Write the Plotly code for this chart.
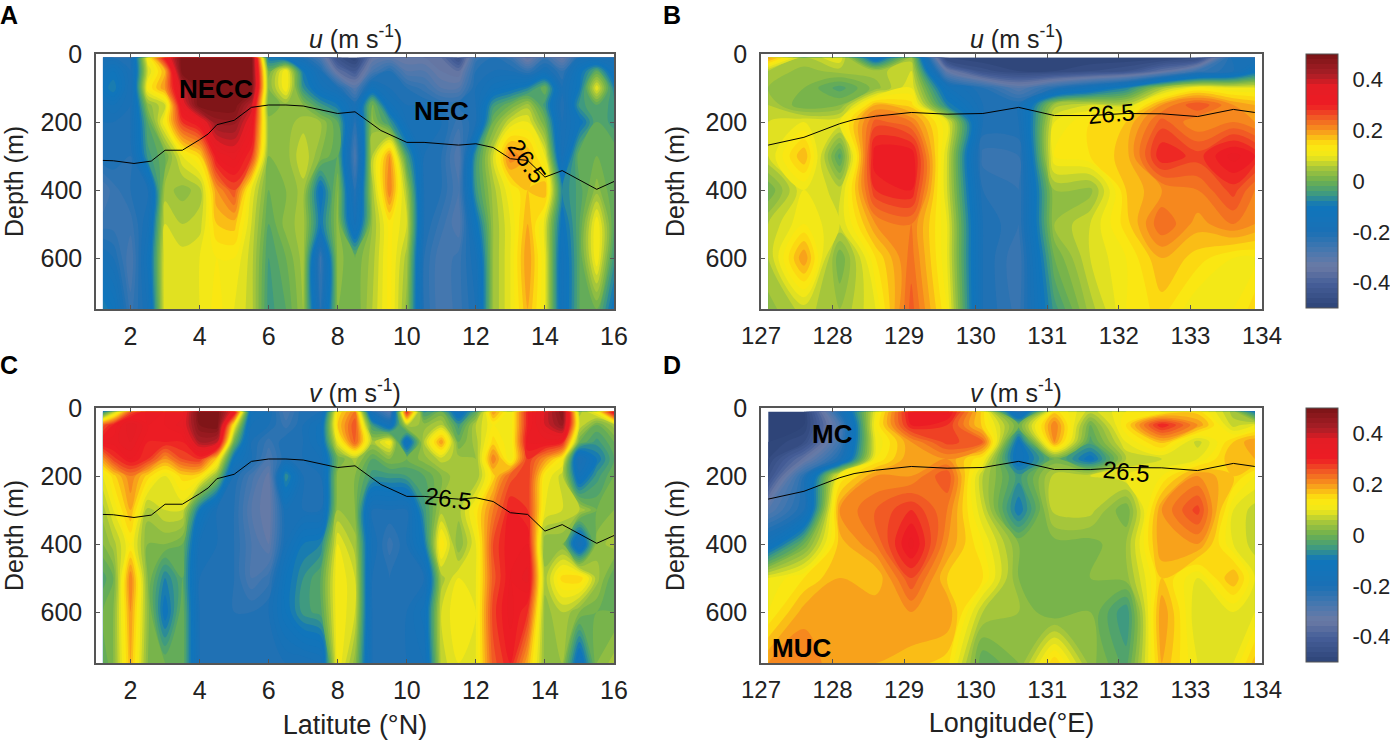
import numpy as np
import plotly.graph_objects as go

# depth levels shared by all four sections (m)
depth = [10, 50, 100, 150, 200, 300, 400, 500, 600, 750]
lat = [1.2, 1.5, 2, 2.5, 3, 3.5, 4, 4.5, 5, 5.5, 6, 6.5, 7, 7.5, 8, 8.5, 9, 9.5,
       10, 10.5, 11, 11.5, 12, 12.5, 13, 13.5, 14, 14.5, 15, 15.5, 16]
lon = [127.1, 127.6, 128.1, 128.6, 129.1, 129.6, 130.1, 130.6, 131.1, 131.6,
       132.1, 132.6, 133.1, 133.6, 133.9]

# sections are written column by column (one list per station), top to bottom
u_lat = [
    [-.2, -.15, -.12, -.18, -.2, -.2, -.28, -.25, -.18, -.08],
    [-.2, -.12, -.08, -.16, -.2, -.2, -.25, -.25, -.2, -.12],
    [-.2, -.2, -.2, -.2, -.2, -.22, -.22, -.25, -.28, -.25],
    [.12, .08, .12, .03, -.02, -.05, -.2, -.18, -.15, -.18],
    [.32, .18, .2, .08, .12, 0, .05, .08, .1, .1],
    [.5, .5, .4, .35, .28, .1, .03, .06, .09, .1],
    [.5, .5, .5, .5, .33, .15, .05, .07, .1, .1],
    [.5, .5, .5, .5, .45, .32, .2, .16, .12, .13],
    [.5, .5, .5, .5, .45, .35, .26, .17, .12, .1],
    [.5, .5, .5, .4, .35, .28, .1, .08, .07, .07],
    [-.1, 0, .02, 0, .03, .02, 0, -.02, -.04, -.05],
    [-.14, .12, .12, .03, .03, .03, .02, .03, 0, -.02],
    [-.2, -.1, -.06, .02, .05, .08, .05, .05, .05, .04],
    [-.28, -.2, -.15, -.05, .04, .02, -.12, -.1, -.25, -.22],
    [-.45, -.36, -.2, -.1, -.02, -.02, .02, .03, .03, .02],
    [-.5, -.42, -.3, -.2, -.22, -.28, -.22, -.18, 0, 0],
    [-.34, -.28, -.15, .02, .03, .06, .05, .04, .05, .06],
    [-.32, -.22, -.2, -.15, -.05, .2, .22, .13, .13, .13],
    [-.34, -.3, -.22, -.2, -.18, -.04, .05, .08, .05, .03],
    [-.34, -.3, -.25, -.2, -.18, -.2, -.2, -.2, -.22, -.22],
    [-.36, -.34, -.3, -.22, -.2, -.22, -.22, -.25, -.28, -.28],
    [-.45, -.36, -.3, -.22, -.25, -.3, -.28, -.3, -.25, -.25],
    [-.25, -.22, -.2, -.2, -.2, -.05, -.05, -.12, -.18, -.2],
    [-.22, -.2, -.15, -.05, 0, .08, .05, .04, .04, .04],
    [-.25, -.2, -.12, 0, .08, .22, .12, .1, .1, .1],
    [-.36, -.24, -.08, .05, .1, .18, .16, .18, .2, .18],
    [-.25, -.18, 0, -.05, 0, .1, .18, .09, .1, .1],
    [-.34, -.24, -.2, -.22, -.2, -.18, -.08, -.12, -.15, -.15],
    [-.2, -.12, -.1, -.05, -.12, 0, -.03, -.02, -.02, -.02],
    [-.2, -.02, .1, -.02, -.02, 0, .03, .12, .12, 0],
    [-.2, -.15, -.08, -.05, -.05, 0, -.02, -.02, -.05, -.12],
]

v_lat = [
    [-.08, .25, .33, .2, .1, .05, .02, -.03, 0, -.02],
    [.05, .3, .33, .27, .15, .1, .05, 0, .02, .02],
    [.25, .38, .36, .32, .22, .18, .12, .22, .2, .18],
    [.33, .32, .3, .28, .15, .05, .02, .02, .03, .02],
    [.32, .32, .3, .2, .1, .08, .02, -.08, -.12, 0],
    [.33, .35, .3, .26, .15, .08, 0, -.02, 0, 0],
    [.5, .48, .42, .28, .14, -.1, -.18, -.2, -.2, -.2],
    [.5, .5, .4, .15, .03, -.2, -.2, -.2, -.2, -.2],
    [.35, .12, 0, -.12, -.2, -.22, -.22, -.22, -.22, -.2],
    [-.15, -.18, -.2, -.2, -.27, -.3, -.28, -.28, -.22, -.2],
    [-.18, -.2, -.25, -.28, -.33, -.34, -.32, -.25, -.2, -.2],
    [-.28, -.25, -.2, -.2, -.06, -.18, -.18, -.12, -.12, -.2],
    [-.2, -.2, -.2, -.2, -.2, -.2, -.1, -.06, -.05, -.2],
    [-.2, -.15, -.15, -.18, -.2, -.2, -.08, -.02, -.03, -.18],
    [.14, .16, .1, 0, .03, .04, .1, .12, .12, .12],
    [.22, .26, .25, .05, .02, .02, .05, .08, .08, .03],
    [-.2, -.05, .05, -.02, -.05, -.2, -.18, -.2, -.2, -.2],
    [-.3, -.15, .12, .02, -.05, -.2, -.25, -.22, -.22, -.22],
    [.3, .06, -.15, 0, -.04, -.2, -.2, -.2, -.2, -.2],
    [-.05, .03, .06, .03, -.02, -.05, -.1, -.2, -.15, -.18],
    [0, .06, .2, .07, .02, .05, .14, .05, .08, .07],
    [-.15, -.05, 0, .05, .06, .05, .02, .1, .12, .1],
    [-.02, .06, .05, .04, .04, .13, .1, .1, .1, .1],
    [.2, .12, .15, .22, .15, .22, .26, .25, .27, .25],
    [.1, .1, .1, .1, .25, .3, .32, .32, .33, .3],
    [.3, .3, .32, .28, .28, .28, .32, .35, .28, .18],
    [.38, .38, .33, .2, .12, .1, .02, .05, .03, .03],
    [.48, .45, .3, .12, .07, .08, .02, .15, .06, .04],
    [.05, .08, 0, -.2, -.15, .06, -.18, .16, .02, -.15],
    [.12, 0, -.05, -.1, -.05, 0, .03, .05, 0, .02],
    [.35, .05, 0, -.02, 0, .02, .05, -.02, 0, .05],
]

u_lon = [
    [.2, .06, .04, .06, .08, .08, 0, .06, .06, .03],
    [.06, .03, .02, 0, .1, .18, .1, .12, .2, .07],
    [.1, .05, -.03, .02, .1, -.03, .07, .08, 0, .04],
    [-.15, .05, .03, .18, .25, .32, .28, .2, .14, .1],
    [.05, .08, .1, .15, .22, .32, .3, .22, .23, .25],
    [-.5, -.33, -.15, -.08, .1, .08, .08, .1, .1, .12],
    [-.5, -.45, -.22, -.2, -.2, -.25, -.22, -.2, -.2, -.2],
    [-.5, -.48, -.3, -.2, -.2, -.24, -.24, -.24, -.26, -.25],
    [-.5, -.48, -.22, .05, .1, .12, .04, .04, 0, -.05],
    [-.5, -.46, -.15, .08, .14, .14, .03, .08, .08, .05],
    [-.5, -.44, -.08, .07, .16, .17, .16, .15, .12, .12],
    [-.5, -.36, .05, .2, .25, .3, .2, .24, .18, .15],
    [-.48, -.25, .12, .26, .2, .27, .22, .19, .15, .1],
    [-.18, -.2, .1, .2, .22, .33, .27, .22, .12, .12],
    [-.2, -.12, .1, .18, .2, .3, .22, .2, .12, .15],
]

v_lon = [
    [-.5, -.5, -.5, -.48, -.45, -.3, -.15, .1, .12, .2],
    [-.5, -.5, -.46, -.35, -.22, -.2, 0, .14, .19, .22],
    [-.2, -.28, -.26, -.2, .12, .2, .17, .18, .2, .18],
    [.1, .12, .1, .12, .2, .24, .22, .16, .2, .18],
    [.32, .3, .2, .2, .2, .28, .33, .26, .2, .17],
    [.33, .28, .27, .2, .26, .22, .2, .16, .2, .15],
    [.15, .15, .24, .12, .06, .08, .12, .14, .06, -.02],
    [-.2, 0, -.12, -.14, -.05, -.1, .02, .02, .04, .02],
    [.15, .22, .2, 0, .07, .07, .01, .02, 0, .16],
    [.07, 0, -.03, -.12, .08, .07, .01, .02, .02, .03],
    [.12, .14, .1, .06, .1, 0, .04, .03, -.06, -.03],
    [.12, .3, .17, .08, .12, .2, .2, .16, .2, .18],
    [.15, .2, .07, .1, .2, .27, .2, .1, .08, .1],
    [.05, .07, .16, .18, .16, .1, .1, .18, .1, .1],
    [-.1, .1, .2, .18, .12, .07, .07, .1, .1, .17],
]

# 26.5 isopycnal
iso_lat = [1.2, 1.5, 2.1, 2.6, 3, 3.5, 4, 4.25, 4.5, 5, 5.5, 6, 6.5, 7, 8, 8.5, 9.25,
           10, 10.5, 11, 11.5, 12, 12.5, 13, 13.5, 14, 14.5, 15.5, 16]
iso_lat_depth = [313, 314, 322, 315, 283, 283, 252, 235, 208, 195, 157, 150, 150, 153,
                 175, 170, 225, 260, 260, 263, 268, 264, 275, 308, 313, 362, 343, 398, 375]
iso_lon = [127.1, 127.6, 128.1, 128.3, 128.6, 129.1, 129.6, 130.1, 130.6, 131.1, 131.6,
           132.1, 132.6, 133.1, 133.6, 133.9]
iso_lon_depth = [268, 245, 205, 193, 183, 172, 177, 175, 157, 181, 181, 175, 176, 184, 163, 172]

lat_ticks = [2, 4, 6, 8, 10, 12, 14, 16]
lon_ticks = [127, 128, 129, 130, 131, 132, 133, 134]
depth_ticks = [0, 200, 400, 600]
cbar_ticks = [-0.4, -0.2, 0, 0.2, 0.4]

colors = [
    [0.0, "#2e4478"], [0.1, "#465f99"], [0.16, "#6b7aa5"], [0.22, "#4a78ae"], [0.3, "#1a70b5"],
    [0.4, "#0f75bc"], [0.45, "#3f9a80"], [0.5, "#6db04f"], [0.55, "#a5c63b"], [0.6, "#f0e81a"],
    [0.64, "#fde70f"], [0.7, "#f7941d"], [0.75, "#f15a24"], [0.8, "#ed1c24"], [0.87, "#e51d25"],
    [0.92, "#a81e26"], [1.0, "#7a1416"],
]

FONT = "Liberation Sans"
GRAY = "#555555"
TEXT = "#222222"

W, H = 1390, 741
# axes boxes in pixels: left, right, top, bottom
boxes = {
    "": (96, 614, 54, 309),
    "2": (761, 1262, 54, 309),
    "3": (96, 614, 408, 663),
    "4": (761, 1262, 408, 663),
}

fig = go.Figure()

panels = [
    ("", lat, u_lat, iso_lat, iso_lat_depth, None),
    ("2", lon, u_lon, iso_lon, iso_lon_depth, 54),
    ("3", lat, v_lat, iso_lat, iso_lat_depth, None),
    ("4", lon, v_lon, iso_lon, iso_lon_depth, 408),
]

for ax, xs, z, iso_x, iso_y, cb_top in panels:
    trace = dict(
        x=xs, y=depth, z=np.array(z).T,
        xaxis="x" + ax, yaxis="y" + ax,
        colorscale=colors, zmin=-0.5, zmax=0.5,
        contours=dict(start=-0.5, end=0.5, size=0.02, coloring="fill", showlines=False),
        line=dict(width=0),
        showscale=cb_top is not None,
    )
    if cb_top is not None:
        trace["colorbar"] = dict(
            x=1306 / W, xanchor="left", xpad=0, ypad=0,
            y=1 - cb_top / H, yanchor="top",
            len=254 / H, lenmode="fraction",
            thickness=32, outlinecolor=GRAY, outlinewidth=1,
            tickvals=cbar_ticks, ticktext=["-0.4", "-0.2", "0", "0.2", "0.4"],
            ticks="outside", ticklen=10, tickcolor="rgba(0,0,0,0)",
            tickfont=dict(family=FONT, size=22, color=TEXT),
        )
    fig.add_trace(go.Contour(**trace))
    fig.add_trace(go.Scatter(
        x=iso_x, y=iso_y, mode="lines", xaxis="x" + ax, yaxis="y" + ax,
        line=dict(color="black", width=1), showlegend=False,
    ))

layout = dict(
    width=W, height=H, margin=dict(l=0, r=0, t=0, b=0, autoexpand=False),
    paper_bgcolor="white", plot_bgcolor="white",
    font=dict(family=FONT, color=TEXT), showlegend=False,
)

for ax, (l, r, t, b) in boxes.items():
    is_lat = ax in ("", "3")
    layout["xaxis" + ax] = dict(
        domain=[l / W, r / W], anchor="y" + ax,
        range=[1, 16] if is_lat else [127, 134],
        tickmode="array", tickvals=lat_ticks if is_lat else lon_ticks,
        ticks="inside", ticklen=4, tickcolor=GRAY, showgrid=False, zeroline=False,
        showline=True, linecolor=GRAY, linewidth=1.5, mirror="allticks", ticklabelstandoff=4,
        tickfont=dict(family=FONT, size=25 if is_lat else 24, color=TEXT),
    )
    layout["yaxis" + ax] = dict(
        domain=[1 - b / H, 1 - t / H], anchor="x" + ax,
        range=[750, 0], tickmode="array", tickvals=depth_ticks,
        ticks="inside", ticklen=4, tickcolor=GRAY, showgrid=False, zeroline=False,
        showline=True, linecolor=GRAY, linewidth=1.5, mirror="allticks", ticklabelstandoff=7,
        tickfont=dict(family=FONT, size=25, color=TEXT),
        title=dict(text="Depth (m)", font=dict(family=FONT, size=25, color=TEXT), standoff=14),
    )

layout["xaxis3"]["title"] = dict(text="Latitute (°N)", font=dict(family=FONT, size=27, color=TEXT), standoff=12)
layout["xaxis4"]["title"] = dict(text="Longitude(°E)", font=dict(family=FONT, size=27, color=TEXT), standoff=12)

notes = []


def note(text, x, y, ax, size=26, bold=False, angle=0):
    if bold:
        text = "<b>" + text + "</b>"
    notes.append(dict(text=text, x=x, y=y, xref="x" + ax, yref="y" + ax, showarrow=False,
                      textangle=angle, font=dict(family=FONT, size=size, color="black")))


note("NECC", 4.47, 103, "", bold=True)
note("NEC", 11.0, 167, "", bold=True)
note("26.5", 13.5, 315, "", size=24, angle=55)
note("26.5", 131.9, 176, "2", size=24, angle=-5)
note("26.5", 11.2, 265, "3", size=24, angle=8)
note("26.5", 132.1, 186, "4", size=24, angle=6)
note("MC", 128.0, 77, "4", bold=True)
note("MUC", 127.57, 705, "4", bold=True)

# panel letters and titles sit in paper coordinates
for letter, px, py in [("A", 9, 15), ("B", 672, 15), ("C", 9, 365), ("D", 672, 365)]:
    notes.append(dict(text="<b>" + letter + "</b>", x=px / W, y=1 - py / H, xref="paper", yref="paper",
                      xanchor="center", yanchor="middle", showarrow=False,
                      font=dict(family=FONT, size=25, color="black")))

for title, px, py in [("<i>u</i> (m s<sup>-1</sup>)", 355, 37), ("<i>u</i> (m s<sup>-1</sup>)", 1016, 37),
                      ("<i>v</i> (m s<sup>-1</sup>)", 355, 391), ("<i>v</i> (m s<sup>-1</sup>)", 1016, 391)]:
    notes.append(dict(text=title, x=px / W, y=1 - py / H, xref="paper", yref="paper",
                      xanchor="center", yanchor="middle", showarrow=False,
                      font=dict(family=FONT, size=25, color=TEXT)))

layout["annotations"] = notes
fig.update_layout(**layout)

fig.write_html("out.html", config={"displayModeBar": False}, post_script="document.body.style.margin='0';")
